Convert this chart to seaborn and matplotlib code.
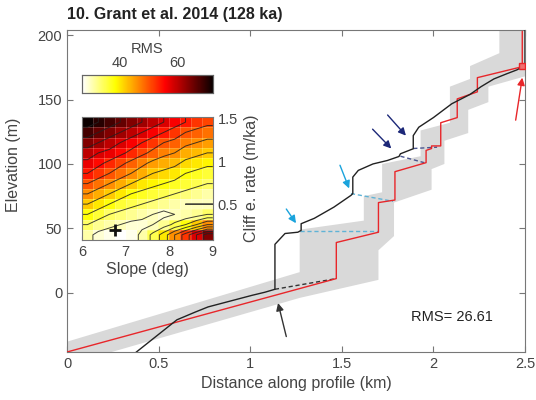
import numpy as np
import pandas as pd
import matplotlib
matplotlib.use('Agg')
import matplotlib.pyplot as plt
import seaborn as sns

# 観測プロファイル (km, m)
obs_x = [0.37, 0.60, 0.70, 0.77, 1.01, 1.08, 1.135, 1.135, 1.19, 1.26, 1.278, 1.278,
         1.35, 1.457, 1.55, 1.56, 1.56, 1.59, 1.67, 1.749, 1.812, 1.82, 1.89, 1.89,
         1.92, 2.0, 2.1, 2.2, 2.26, 2.33, 2.40, 2.455, 2.49, 2.5, 2.5]
obs_y = [-47, -21, -15, -11, -2, 0.4, 2.7, 37.6, 46, 47, 48.4, 53.6,
         57.8, 66.5, 75.6, 77, 89.8, 95, 100, 102.7, 105.8, 107.9, 111.8, 122,
         128.5, 136, 146.7, 154, 160, 166, 170, 173, 175.6, 176, 205]

# モデルプロファイル
model_x = [0, 1.47, 1.47, 1.70, 1.70, 1.79, 1.79, 1.96, 1.96, 1.99, 1.99, 2.04, 2.04,
           2.13, 2.13, 2.24, 2.24, 2.47, 2.485, 2.485]
model_y = [-46, 11, 39, 47, 70, 72, 94, 101, 110.5, 112, 114, 114, 132,
           136, 150.5, 156, 167, 175, 176, 203]

# 不確実性の帯
band_up_x = [0, 1.27, 1.27, 1.62, 1.62, 1.72, 1.72, 1.93, 1.93, 2.09, 2.09, 2.20, 2.20, 2.36, 2.36, 2.5]
band_up_y = [-38, 16, 49, 56, 75, 78, 100, 106, 126, 132, 160, 166, 176, 186, 206, 206]
band_lo_x = [0, 1.27, 1.70, 1.70, 1.785, 1.785, 1.99, 1.99, 2.06, 2.06, 2.19, 2.19, 2.30, 2.30, 2.5]
band_lo_y = [-56, -4, 10, 33, 44, 70, 80, 96, 100, 118, 124, 142, 148, 160, 168]

# 破線 (x0, y0, x1, y1)
dash_black = [1.135, 2.7, 1.47, 11]
dash_light = [[1.27, 48, 1.70, 48], [1.55, 77, 1.78, 71]]
dash_navy = [[1.82, 106, 1.95, 101], [1.89, 112, 2.02, 113]]

# 矢印 (tail x, tail y, head x, head y)
arrow_black = [[1.197, -34, 1.152, -8]]
arrow_light = [[1.197, 65, 1.25, 54], [1.49, 99, 1.54, 81]]
arrow_navy = [[1.668, 127, 1.77, 112], [1.75, 138, 1.85, 122]]
arrow_red = [[2.449, 134, 2.485, 167]]
best_point = [2.485, 176]

# インセット: RMS (行 = 侵食速度, 列 = 斜面角度)
slopes = [6.125, 6.375, 6.625, 6.875, 7.125, 7.375, 7.625, 7.875, 8.125, 8.375, 8.625, 8.875]
rates = [0.14, 0.26, 0.38, 0.50, 0.62, 0.74, 0.86, 0.98, 1.10, 1.22, 1.34, 1.46]
rms = [
    [31, 29, 28, 27, 28, 31, 35, 40, 46, 52, 58, 64],
    [34, 32, 31, 30, 29, 29, 30, 32, 35, 38, 42, 46],
    [38, 36, 34, 33, 32, 31, 30, 29, 30, 31, 32, 34],
    [42, 40, 38, 36, 35, 34, 33, 32, 31, 30, 30, 30],
    [46, 44, 42, 40, 38, 37, 36, 35, 34, 33, 32, 31],
    [50, 48, 46, 44, 42, 40, 39, 38, 37, 36, 35, 34],
    [54, 52, 50, 48, 46, 44, 42, 41, 40, 38, 37, 36],
    [57, 55, 53, 51, 49, 47, 45, 44, 43, 41, 40, 39],
    [60, 58, 57, 55, 53, 51, 49, 47, 46, 44, 43, 42],
    [64, 62, 60, 58, 56, 54, 52, 50, 49, 47, 46, 45],
    [68, 66, 64, 62, 60, 58, 56, 54, 52, 50, 49, 48],
    [72, 70, 68, 66, 64, 62, 60, 58, 56, 54, 52, 51],
]
best_slope, best_rate = 6.75, 0.2
rms_value = 26.61

sns.set_style('ticks', {'xtick.direction': 'in', 'ytick.direction': 'in'})
plt.rcParams['font.family'] = ['Liberation Sans', 'DejaVu Sans']
plt.rcParams['axes.edgecolor'] = '#777777'
plt.rcParams['xtick.color'] = '#777777'
plt.rcParams['ytick.color'] = '#777777'
plt.rcParams['xtick.labelcolor'] = '#444444'
plt.rcParams['ytick.labelcolor'] = '#444444'
plt.rcParams['axes.labelcolor'] = '#444444'

fig = plt.figure(figsize=(5.36, 4.0), dpi=100)
ax = fig.add_axes([0.125, 0.12, 0.8545, 0.805])

# 帯
ax.fill(band_up_x + band_lo_x[::-1], band_up_y + band_lo_y[::-1],
        color='#d9d9d9', lw=0, zorder=1)

# 破線
ax.plot(dash_black[0::2], dash_black[1::2], color='#333333', ls=(0, (3, 2)), lw=1, zorder=2)
for d in dash_light:
    ax.plot(d[0::2], d[1::2], color='#5fb3d6', ls=(0, (3, 2)), lw=1, zorder=2)
for d in dash_navy:
    ax.plot(d[0::2], d[1::2], color='#4a5590', ls=(0, (3, 2)), lw=1, zorder=2)

sns.lineplot(x=model_x, y=model_y, sort=False, estimator=None, color='#e8262a', lw=1, ax=ax, zorder=3)
sns.lineplot(x=obs_x, y=obs_y, sort=False, estimator=None, color='#222222', lw=1, ax=ax, zorder=4)
ax.plot(best_point[0], best_point[1], marker='s', ms=5, color='#e8262a', mfc='#f07070', zorder=5)

for arrows, c in [(arrow_black, '#333333'), (arrow_light, '#1aa3dc'),
                  (arrow_navy, '#1c2878'), (arrow_red, '#e8262a')]:
    for a in arrows:
        ax.annotate('', xy=(a[2], a[3]), xytext=(a[0], a[1]),
                    arrowprops=dict(arrowstyle='-|>', color=c, lw=1, mutation_scale=11,
                                    shrinkA=0, shrinkB=0), zorder=6)

ax.text(1.88, -19, f'RMS= {rms_value}', fontsize=10.5, color='#222222', va='center')

ax.set_xlim(0, 2.5)
ax.set_ylim(-46, 204)
ax.set_xticks([0, 0.5, 1, 1.5, 2, 2.5])
ax.set_xticklabels(['0', '0.5', '1', '1.5', '2', '2.5'])
ax.set_yticks([0, 50, 100, 150, 200])
ax.tick_params(labelsize=10.5, length=4, width=0.8, top=True, right=True)
for s in ax.spines.values():
    s.set_visible(True)
    s.set_linewidth(0.8)
ax.set_xlabel('Distance along profile (km)', fontsize=11.5)
ax.set_ylabel('Elevation (m)', fontsize=11.5)
ax.yaxis.set_label_coords(-0.1, 0.58)

fig.text(0.125, 0.965, '10. Grant et al. 2014 (128 ka)', fontsize=11.5,
         fontweight='bold', color='#222222', va='center')

# インセット
ax_in = fig.add_axes([0.153, 0.40, 0.244, 0.3075])
cax = fig.add_axes([0.153, 0.7675, 0.244, 0.045])
df = pd.DataFrame(rms, index=rates, columns=slopes)
sns.heatmap(df, ax=ax_in, cmap='hot_r', vmin=27, vmax=72, cbar_ax=cax,
            cbar_kws={'orientation': 'horizontal'}, linewidths=0)
n_r, n_s = len(rates), len(slopes)
ax_in.set_ylim(0, n_r)
ax_in.set_xlim(0, n_s)
for i in range(1, n_s):
    ax_in.axvline(i, color='white', lw=0.5, alpha=0.25)
for j in range(1, n_r):
    ax_in.axhline(j, color='white', lw=0.5, alpha=0.25)

# 等値線 (セル中心, 端まで延長)
z = np.pad(np.array(rms, dtype=float), 1, mode='edge')
xs = np.concatenate([[0], np.arange(n_s) + 0.5, [n_s]])
ys = np.concatenate([[0], np.arange(n_r) + 0.5, [n_r]])
ax_in.contour(xs, ys, z, levels=np.arange(30, 72, 4), colors='#222222', linewidths=0.7, alpha=0.85)

def slope_pos(s):
    return (s - 6.0) / 0.25

def rate_pos(r):
    return (r - 0.08) / 0.12

ax_in.plot(slope_pos(best_slope), rate_pos(best_rate), marker='+', ms=8, mew=2, color='#111111')
ax_in.set_xticks([slope_pos(s) for s in [6, 7, 8, 9]])
ax_in.set_xticklabels(['6', '7', '8', '9'], rotation=0)
ax_in.set_yticks([rate_pos(r) for r in [0.5, 1, 1.5]])
ax_in.set_yticklabels(['0.5', '1', '1.5'], rotation=0)
ax_in.yaxis.tick_right()
ax_in.yaxis.set_label_position('right')
ax_in.tick_params(labelsize=10.5, length=3, direction='in', right=True, left=False)
for s in ax_in.spines.values():
    s.set_visible(True)
    s.set_linewidth(0.8)
    s.set_color('#777777')
ax_in.set_xlabel('Slope (deg)', fontsize=11.5, labelpad=2)
ax_in.set_ylabel('Cliff e. rate (m/ka)', fontsize=11.5, rotation=90, labelpad=4)

cax.xaxis.set_ticks_position('top')
cax.xaxis.set_label_position('top')
cax.set_xticks([40, 60])
cax.tick_params(labelsize=10.5, length=2, direction='in')
cax.set_xlabel('RMS', fontsize=10.5, labelpad=2)
for s in cax.spines.values():
    s.set_visible(True)
    s.set_linewidth(0.8)
    s.set_color('#666666')

fig.savefig('out.png', dpi=100)
